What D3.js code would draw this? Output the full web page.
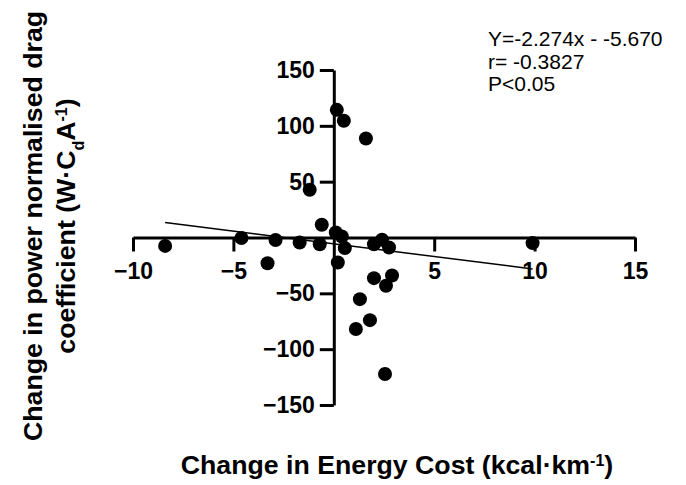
<!DOCTYPE html>
<html>
  <head>
    <meta charset="utf-8">
    <title>Energy cost vs drag</title>
    <script src="https://d3js.org/d3.v7.min.js"></script>
    <style>
      body { margin: 0; background: #fff; }
      text { font-family: "Liberation Sans", Arial, Helvetica, sans-serif; fill: #000; }
      .axis path, .axis line { stroke: #000; stroke-width: 3px; }
      .axis text { font-size: 23px; font-weight: bold; }
      .title { font-size: 26.7px; font-weight: bold; }
      .stats { font-size: 21px; }
    </style>
  </head>
  <body>
    <svg width="686" height="485"></svg>
    <script>
      // data
      var energyCost = [-8.4, -4.6, -3.3, -2.9, -1.7, -0.7, -1.2, -0.6, 0.1, 0.4, 0.55, 0.2,
                        0.15, 0.5, 1.6, 2.0, 2.4, 2.75, 9.9, 2.0, 2.9, 2.6, 1.3, 1.8, 1.1, 2.55];
      var dragChange = [-7.5, -0.5, -23, -2.3, -4.5, -6, 42.7, 11.4, 4.5, 0.9, -9.5, -22.4,
                        114.3, 104.5, 88.6, -6, -2, -9, -5, -36.4, -34, -43.2, -55.2, -74, -82, -122.3];
      var xTicks = [-10, -5, 5, 10, 15];
      var yTicks = [-150, -100, -50, 50, 100, 150];
      var slope = -2.274, intercept = -5.670;
      var statsLines = ["Y=-2.274x - -5.670", "r= -0.3827", "P<0.05"];

      var svg = d3.select("svg");

      var x = d3.scaleLinear().domain([-10, 15]).range([133, 635]);
      var y = d3.scaleLinear().domain([-150, 150]).range([405, 70]);

      var points = energyCost.map(function(d, i) { return [d, dragChange[i]]; });

      // axes cross at zero
      svg.append("g")
          .attr("class", "axis")
          .attr("transform", "translate(0," + y(0) + ")")
          .call(d3.axisBottom(x).tickValues(xTicks).tickSize(14).tickSizeOuter(0).tickPadding(11));

      svg.append("g")
          .attr("class", "axis")
          .attr("transform", "translate(" + x(0) + ",0)")
          .call(d3.axisLeft(y).tickValues(yTicks).tickSize(14).tickSizeOuter(0).tickPadding(5));

      // regression line over the data range
      var xr = d3.extent(energyCost);
      svg.append("line")
          .attr("x1", x(xr[0])).attr("y1", y(slope * xr[0] + intercept))
          .attr("x2", x(xr[1])).attr("y2", y(slope * xr[1] + intercept))
          .attr("stroke", "#000").attr("stroke-width", 1.5);

      svg.append("g")
        .selectAll("circle")
        .data(points)
        .enter().append("circle")
          .attr("cx", function(d) { return x(d[0]); })
          .attr("cy", function(d) { return y(d[1]); })
          .attr("r", 7)
          .attr("fill", "#000");

      // x title
      var xt = svg.append("text").attr("class", "title")
          .attr("x", 397).attr("y", 474).attr("text-anchor", "middle");
      xt.append("tspan").text("Change in Energy Cost (kcal\u00b7km");
      xt.append("tspan").attr("baseline-shift", "super").attr("font-size", "16px").text("-1");
      xt.append("tspan").text(")");

      // y title, two lines
      var yt = svg.append("g").attr("transform", "translate(42,226) rotate(-90)");
      yt.append("text").attr("class", "title").attr("text-anchor", "middle")
          .text("Change in power normalised drag");
      var y2 = yt.append("text").attr("class", "title").attr("text-anchor", "middle")
          .attr("y", 33);
      y2.append("tspan").text("coefficient (W\u00b7C");
      y2.append("tspan").attr("baseline-shift", "sub").attr("font-size", "16px").text("d");
      y2.append("tspan").text("A");
      y2.append("tspan").attr("baseline-shift", "super").attr("font-size", "16px").text("-1");
      y2.append("tspan").text(")");

      // stats text
      svg.append("g").selectAll("text")
        .data(statsLines)
        .enter().append("text")
          .attr("class", "stats")
          .attr("x", 488)
          .attr("y", function(d, i) { return 46 + i * 22.5; })
          .text(function(d) { return d; });
    </script>
  </body>
</html>
